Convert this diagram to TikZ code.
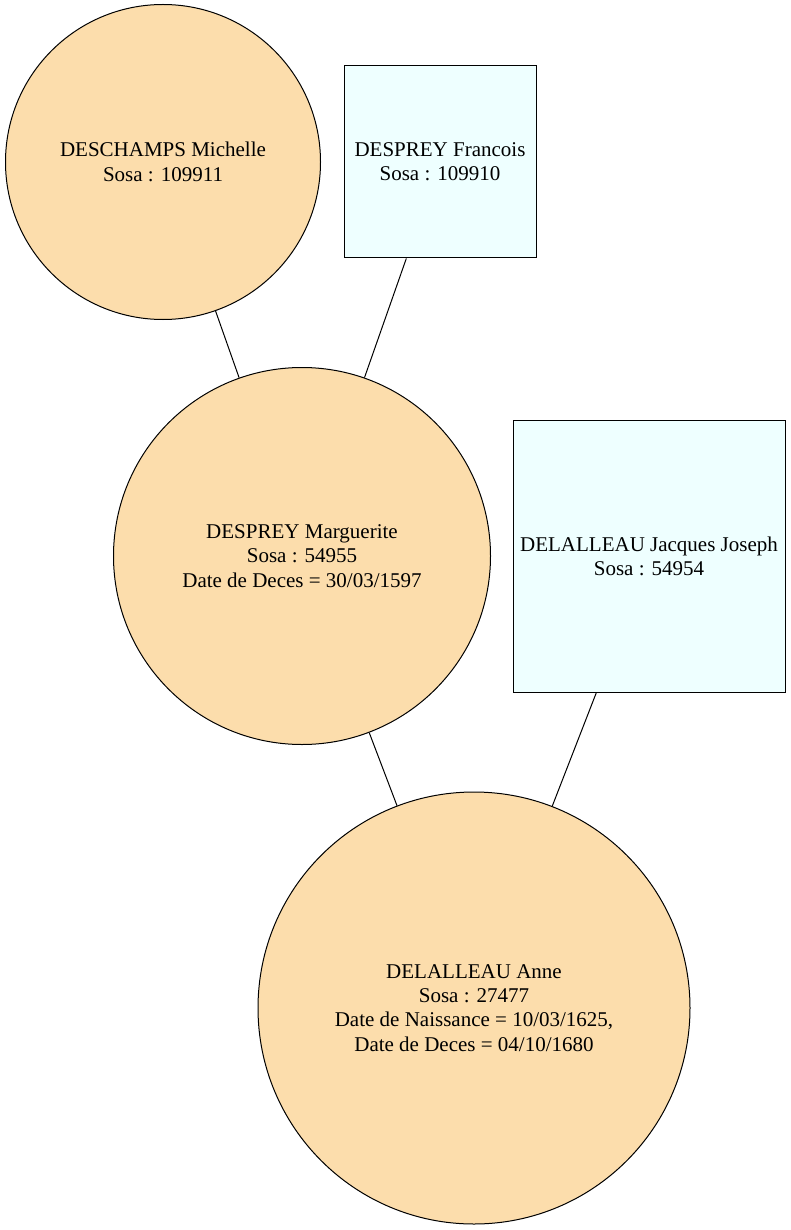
\documentclass[tikz,border=0pt]{standalone}
\usepackage{fontspec}
\setmainfont{Liberation Serif}
\definecolor{peach}{HTML}{FCDDAC}
\definecolor{azurebox}{HTML}{EEFFFF}
\begin{document}
\begin{tikzpicture}[x=1pt,y=-1pt,
  lbl/.style={align=center, font=\fontsize{21}{24.3}\selectfont, line width=1pt, draw=black, inner sep=0pt},
  person/.style={lbl, circle, fill=peach, minimum size=#1},
  male/.style={lbl, rectangle, fill=azurebox, minimum width=#1, minimum height=#1},
  link/.style={line width=1pt, draw=black}]
\useasboundingbox (0,0) rectangle (791,1230);
\node[person=315] (michelle) at (163,162) {DESCHAMPS Michelle\\Sosa : 109911};
\node[male=192] (francois) at (440,162) {DESPREY Francois\\Sosa : 109910};
\node[person=377] (marguerite) at (302,556) {DESPREY Marguerite\\Sosa : 54955\\Date de Deces = 30/03/1597};
\node[male=272] (jacques) at (649,556.5) {DELALLEAU Jacques Joseph\\Sosa : 54954};
\node[person=432] (anne) at (474,1008) {DELALLEAU Anne\\Sosa : 27477\\Date de Naissance = 10/03/1625,\\Date de Deces = 04/10/1680};
\draw[link] (michelle) -- (marguerite);
\draw[link] (francois) -- (marguerite);
\draw[link] (marguerite) -- (anne);
\draw[link] (jacques) -- (anne);
\end{tikzpicture}
\end{document}
